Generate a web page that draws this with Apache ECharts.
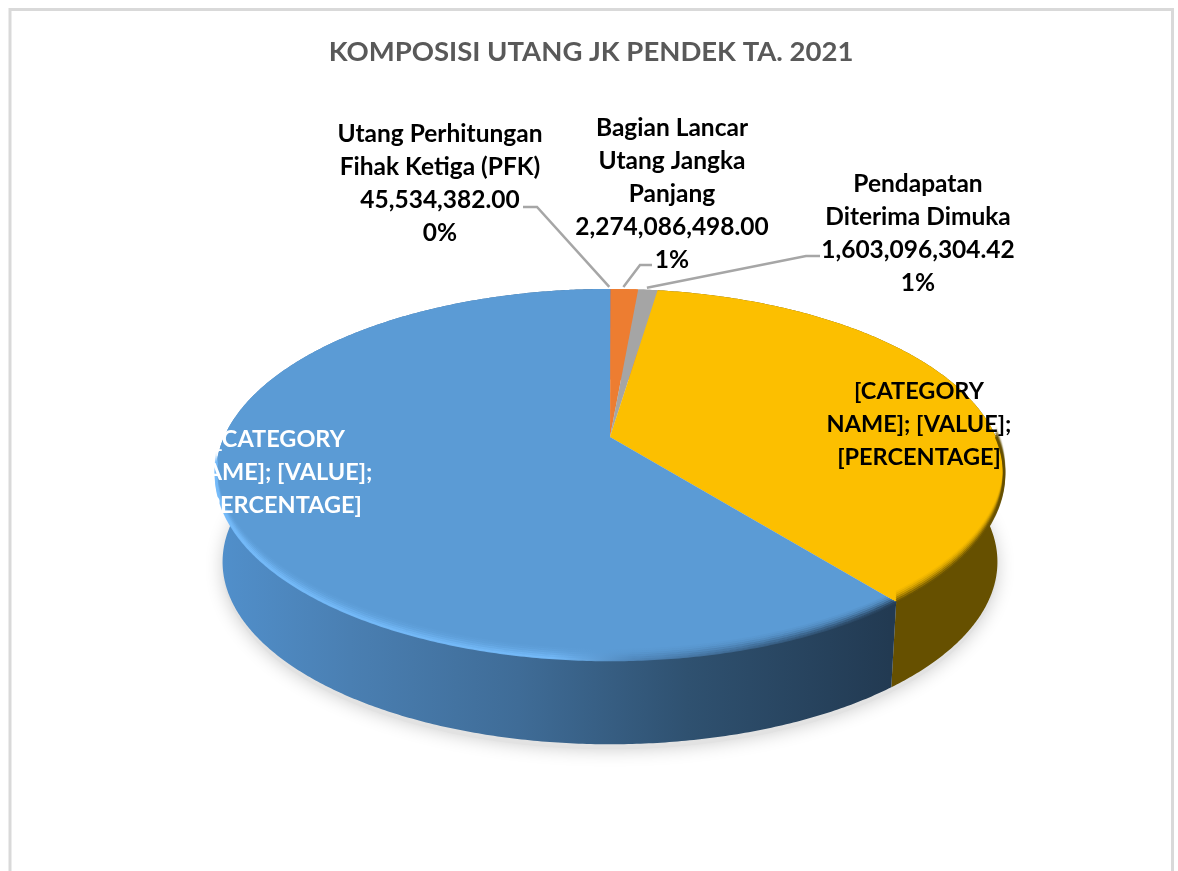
<!DOCTYPE html>
<html>
<head>
<meta charset="utf-8">
<title>KOMPOSISI UTANG JK PENDEK TA. 2021</title>
<style>
html, body { margin: 0; padding: 0; background: #fff; }
#mychart { width: 1178px; height: 871px; }
</style>
<script src="https://cdn.jsdelivr.net/npm/echarts@6/dist/echarts.min.js"></script>
</head>
<body>
<div id="mychart"></div>
<script>
var chartTitle = 'KOMPOSISI UTANG JK PENDEK TA. 2021';

// clockwise from 12 o'clock
var categories = [
    'Utang Perhitungan\nFihak Ketiga (PFK)',
    'Bagian Lancar\nUtang Jangka\nPanjang',
    'Pendapatan\nDiterima Dimuka',
    '[CATEGORY\nNAME]',
    '[CATEGORY\nNAME]'
];
var values = [45534382.00, 2274086498.00, 1603096304.42, 61250000000, 100800000000];
var valueLabels = ['45,534,382.00', '2,274,086,498.00', '1,603,096,304.42', '[VALUE]', '[VALUE]'];
var percentLabels = ['0%', '1%', '1%', '[PERCENTAGE]', '[PERCENTAGE]'];
var colors = ['#4472c4', '#ed7d31', '#a5a5a5', '#fcbf00', '#5b9bd5'];

// pie geometry on the page (perspective of a flat disc)
var cx = 610, cy = 437, radiusX = 386, radiusY = 178, persp = 0.202;
var depthY = 88, depthScale = 0.983;

var total = 0;
for (var i = 0; i < values.length; i++) {
    total += values[i];
}

function startAngle(idx) {
    var sum = 0;
    for (var i = 0; i < idx; i++) {
        sum += values[i];
    }
    return sum / total * 360;
}

function endAngle(idx) {
    return startAngle(idx) + values[idx] / total * 360;
}

function rimPoint(deg, lower) {
    var rad = deg * Math.PI / 180;
    var w = 1 + persp * Math.cos(rad);
    var x = radiusX * Math.sin(rad) / w;
    var y = -radiusY * Math.cos(rad) / w;
    if (lower) {
        return [cx + x * depthScale, cy + y * depthScale + depthY];
    }
    return [cx + x, cy + y];
}

function rimPoints(a0, a1, lower, shiftY) {
    var pts = [];
    var steps = Math.max(2, Math.ceil(Math.abs(a1 - a0) * 2));
    for (var i = 0; i <= steps; i++) {
        var p = rimPoint(a0 + (a1 - a0) * i / steps, lower);
        pts.push([p[0], p[1] + (shiftY || 0)]);
    }
    return pts;
}

// label text blocks, centre x and y of the block
var labelPos = [
    { x: 440, y: 184, color: '#000', size: 24.5 },
    { x: 672, y: 194, color: '#000', size: 24.5 },
    { x: 918, y: 234, color: '#000', size: 24.5 },
    { x: 919, y: 424, color: '#000', size: 23.5 },
    { x: 280, y: 472, color: '#fff', size: 23.5 }
];
// leader line elbows, only the three small slices have one
var leaderPos = [
    [[523, 207], [537, 207]],
    [[652, 265], [640, 265]],
    [[820, 256], [806, 256]]
];

function labelText(i) {
    if (i >= 3) {
        return '[CATEGORY\nNAME]; [VALUE];\n[PERCENTAGE]';
    }
    return categories[i] + '\n' + valueLabels[i] + '\n' + percentLabels[i];
}

var wallBlue = new echarts.graphic.LinearGradient(215, 0, 890, 0, [
    { offset: 0, color: '#5190cc' },
    { offset: 0.2, color: '#4a7fb2' },
    { offset: 0.45, color: '#3f6c97' },
    { offset: 0.7, color: '#2f5170' },
    { offset: 1, color: '#223a52' }
], true);
var bevelBlue = new echarts.graphic.LinearGradient(215, 0, 890, 0, [
    { offset: 0, color: '#74baf9' },
    { offset: 0.5, color: '#74baf9' },
    { offset: 0.62, color: '#4f86ba' },
    { offset: 1, color: '#253f59' }
], true);

function renderShadow(params, api) {
    var pts = rimPoints(0, 360, true, 5);
    return {
        type: 'polygon',
        silent: true,
        shape: { points: pts },
        style: { fill: '#e2e2e2', shadowBlur: 18, shadowColor: 'rgba(0,0,0,0.2)' }
    };
}

function renderWall(params, api) {
    var idx = api.value(0);
    var a0 = startAngle(idx), a1 = endAngle(idx);
    var fill = idx == 4 ? wallBlue : idx == 3 ? '#665000' : colors[idx];
    var pts = rimPoints(a0, a1, false).concat(rimPoints(a1, a0, true));
    return {
        type: 'polygon',
        silent: true,
        shape: { points: pts },
        style: { fill: fill }
    };
}

function renderTop(params, api) {
    var idx = api.value(0);
    var a0 = startAngle(idx), a1 = endAngle(idx);
    var pts = [[cx, cy]].concat(rimPoints(a0, a1, false));
    var children = [{
        type: 'polygon',
        shape: { points: pts },
        style: { fill: colors[idx] }
    }];
    // soft edge towards the wall
    if (idx >= 3) {
        var shifts = [0, -2, -4, -6, -8, -10];
        var alphas = [0.95, 0.72, 0.48, 0.28, 0.14, 0.06];
        for (var k = 0; k < shifts.length; k++) {
            var from = Math.max(a0, 90), to = Math.min(a1, 262);
            if (idx == 4) {
                from += k * 0.35;
            }
            children.push({
                type: 'polyline',
                shape: { points: rimPoints(from, to, false, shifts[k]) },
                style: {
                    fill: null,
                    stroke: idx == 4 ? bevelBlue : '#665000',
                    lineWidth: 2.4,
                    opacity: alphas[k]
                }
            });
        }
    }
    return { type: 'group', silent: true, children: children };
}

function renderLabel(params, api) {
    var idx = api.value(0);
    var pos = labelPos[idx];
    var children = [];
    if (idx < 3) {
        var mid = (startAngle(idx) + endAngle(idx)) / 2;
        var tip = rimPoint(mid, false);
        children.push({
            type: 'polyline',
            shape: { points: leaderPos[idx].concat([[tip[0] - 1, tip[1] - 2]]) },
            style: { fill: null, stroke: '#a6a6a6', lineWidth: 2.5 }
        });
    }
    children.push({
        type: 'text',
        style: {
            text: labelText(idx),
            x: pos.x,
            y: pos.y,
            align: 'center',
            verticalAlign: 'middle',
            fill: pos.color,
            font: 'bold ' + pos.size + 'px Lato',
            lineHeight: 33
        }
    });
    return { type: 'group', silent: true, children: children };
}

var sliceData = [];
for (var n = 0; n < values.length; n++) {
    sliceData.push([n, values[n]]);
}

var myChart = echarts.init(document.getElementById('mychart'), null, { renderer: 'canvas' });
myChart.setOption({
    backgroundColor: '#fff',
    animation: false,
    title: {
        text: chartTitle,
        left: 586,
        top: 33,
        textAlign: 'center',
        textStyle: { color: '#595959', fontFamily: 'Lato', fontWeight: 'bold', fontSize: 27.5 }
    },
    graphic: [{
        type: 'polyline',
        silent: true,
        shape: { points: [[10, 871], [10, 9.5], [1172.5, 9.5], [1172.5, 871]] },
        style: { fill: null, stroke: '#d9d9d9', lineWidth: 3 }
    }],
    series: [
        { type: 'custom', coordinateSystem: 'none', data: [[0]], renderItem: renderShadow, z: 1 },
        { type: 'custom', coordinateSystem: 'none', data: sliceData, renderItem: renderWall, z: 2 },
        { type: 'custom', coordinateSystem: 'none', data: sliceData, renderItem: renderTop, z: 3 },
        { type: 'custom', coordinateSystem: 'none', data: sliceData, renderItem: renderLabel, z: 4 }
    ]
});
</script>
</body>
</html>
